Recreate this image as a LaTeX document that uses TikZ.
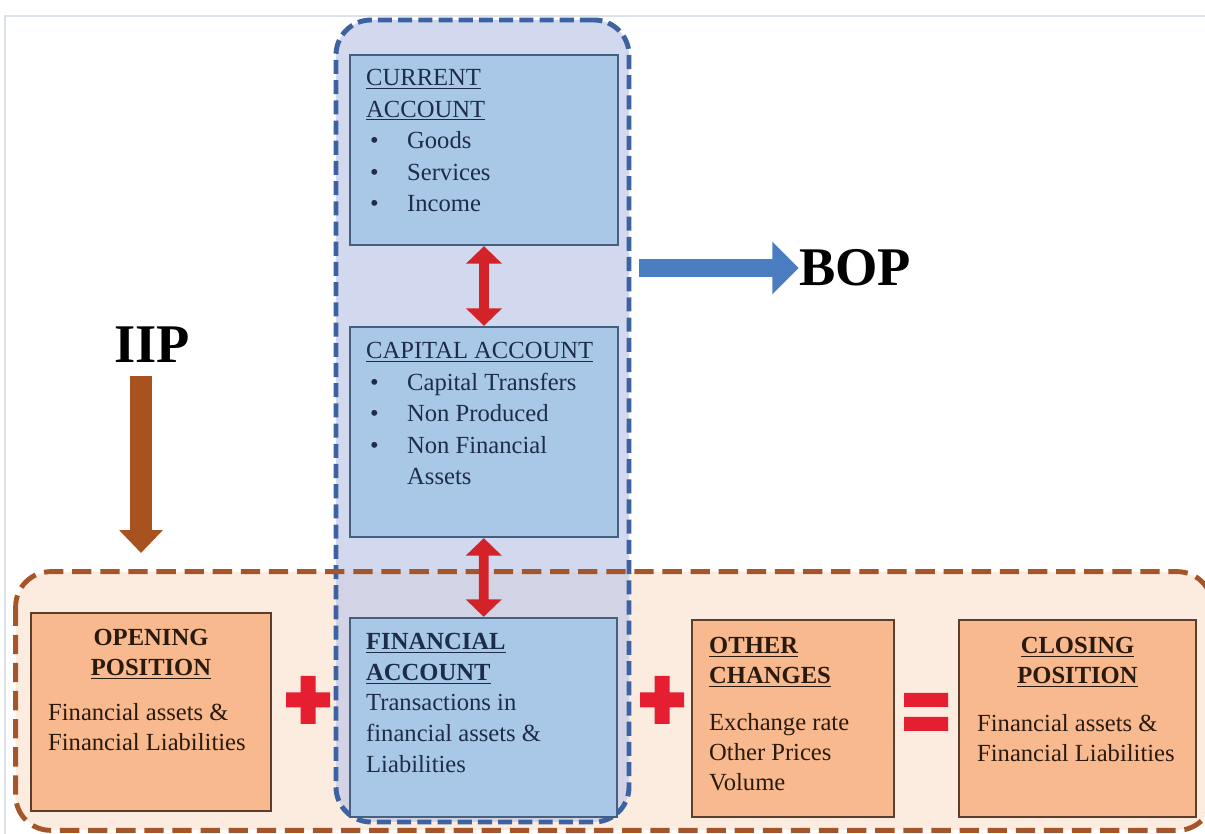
\documentclass[tikz,border=0pt]{standalone}
\usepackage{fontspec}
\setmainfont{Liberation Serif}
\usepackage{xcolor}
\usetikzlibrary{arrows.meta,fit}

\definecolor{colfill}{HTML}{C4CCE8}
\definecolor{colline}{HTML}{3D62A2}
\definecolor{bandfill}{HTML}{FCECE0}
\definecolor{bandline}{HTML}{A5552A}
\definecolor{acctfill}{HTML}{A9C8E8}
\definecolor{acctline}{HTML}{45607F}
\definecolor{acctink}{HTML}{1D2C48}
\definecolor{posfill}{HTML}{F8B98E}
\definecolor{posline}{HTML}{5B3F2C}
\definecolor{posink}{HTML}{2A1A0E}
\definecolor{linkred}{HTML}{D42229}
\definecolor{signred}{HTML}{E61E32}
\definecolor{bopblue}{HTML}{4A7EC0}
\definecolor{iipbrown}{HTML}{A8521F}
\definecolor{framegray}{HTML}{DCE2EA}

\newcommand{\itemdot}{\hspace*{0.08cm}\makebox[0.74cm][l]{\textbullet}}
\newcommand{\itemgap}{\hspace*{0.82cm}}

\begin{document}
\begin{tikzpicture}[x=0.02cm, y=-0.02cm,
    acct/.style={draw=acctline, line width=1.3pt, fill=acctfill, inner sep=0pt},
    posbox/.style={draw=posline, line width=1.3pt, fill=posfill, inner sep=0pt},
    accttxt/.style={inner sep=0pt, anchor=north west, align=left, text=acctink,
      font=\fontsize{14}{18}\selectfont},
    postxt/.style={inner sep=0pt, align=left, text=posink,
      font=\fontsize{14}{17}\selectfont},
    link/.style={linkred, line width=5.5pt,
      {Triangle[width=20pt,length=10pt]}-{Triangle[width=20pt,length=10pt]}},
    boparrow/.style={bopblue, line width=10pt, -{Triangle[width=29pt,length=15pt]}},
    iiparrow/.style={iipbrown, line width=12.5pt, -{Triangle[width=24pt,length=13pt]}},
    sign/.style={fill=signred},
    bigword/.style={inner sep=0pt, text=black, font=\fontsize{31}{31}\selectfont\bfseries}]
  \useasboundingbox (0,0) rectangle (1205,834);
  \fill[white] (0,0) rectangle (1205,834);
  \draw[framegray, line width=1.5pt] (5,16) rectangle (1240,860);
  % ============= containers: IIP band and BOP column =============
  \node[fill=bandfill, inner sep=0pt, rounded corners=0.7cm,
    fit={(16,572) (1212,830)}] (iip-band) {};
  \node[fill=colfill, fill opacity=0.75, draw=colline, line width=2.8pt,
    dash pattern=on 8pt off 3.5pt, rounded corners=0.7cm, inner sep=0pt,
    fit={(336,20) (629,822)}] (bop-col) {};
  \draw[bandline, line width=2.8pt, dash pattern=on 11pt off 5pt, rounded corners=0.7cm]
    (iip-band.north west) rectangle (iip-band.south east);
  % ============= BOP accounts =============
  \node[acct, fit={(350,55) (618,245)}] (cur) {};
  \node[acct, fit={(350,327) (618,537)}] (cap) {};
  \node[acct, fit={(350,618) (617,817)}] (fin) {};
  \node[accttxt] (cur-txt) at ([shift={(17,15)}]cur.north west)
    {\underline{CURRENT}\\\underline{ACCOUNT}\\\itemdot Goods\\\itemdot Services\\\itemdot Income};
  \node[accttxt] (cap-txt) at ([shift={(17,16)}]cap.north west)
    {\underline{CAPITAL ACCOUNT}\\\itemdot Capital Transfers\\\itemdot Non Produced\\
     \itemdot Non Financial\\\itemgap Assets};
  \node[accttxt, font=\fontsize{14}{17.5}\selectfont] (fin-txt) at ([shift={(17,16)}]fin.north west)
    {\textbf{\underline{FINANCIAL}}\\\textbf{\underline{ACCOUNT}}\\Transactions in\\
     financial assets \&\\Liabilities};
  \draw[link] (cur) -- (cap);
  \draw[link] (cap) -- (fin);
  % --- BOP label ---
  \node[bigword] (bop) at (855,268) {BOP};
  \draw[boparrow] ([xshift=0.16cm]bop-col.east |- bop.west) -- (bop.west);
  % ============= IIP positions =============
  \node[posbox, fit={(31,613) (271,811)}] (open) {};
  \node[posbox, fit={(692,620) (894,817)}] (other) {};
  \node[posbox, fit={(959,620) (1196,817)}] (close) {};
  \node[postxt, anchor=north, align=center] (open-head) at ([shift={(0,17)}]open.north)
    {\textbf{OPENING}\\\textbf{\underline{POSITION}}};
  \node[postxt, anchor=north west] (open-body) at ([shift={(18,91)}]open.north west)
    {Financial assets \&\\Financial Liabilities};
  \node[postxt, anchor=north west] (other-txt) at ([shift={(18,18)}]other.north west)
    {\textbf{\underline{OTHER}}\\\textbf{\underline{CHANGES}}\\[10pt]Exchange rate\\Other Prices\\Volume};
  \node[postxt, anchor=north, align=center] (close-head) at ([shift={(0,18)}]close.north)
    {\textbf{\underline{CLOSING}}\\\textbf{\underline{POSITION}}};
  \node[postxt, anchor=north west] (close-body) at ([shift={(19,95)}]close.north west)
    {Financial assets \&\\Financial Liabilities};
  % plus, plus, equals
  \fill[sign, shift={(308,700)}] (-22,-7.5) rectangle (22,7.5) (-7.5,-24) rectangle (7.5,24);
  \fill[sign, shift={(662,700)}] (-22,-7.5) rectangle (22,7.5) (-7.5,-24) rectangle (7.5,24);
  \fill[sign, shift={(926,712)}] (-22,-19) rectangle (22,-5) (-22,5) rectangle (22,19);
  % --- IIP label ---
  \node[bigword] (iip) at (152,345) {IIP};
  \coordinate (iip-end) at (141,553);
  \draw[iiparrow] ([yshift=-0.26cm]iip.south -| iip-end) -- (iip-end);
\end{tikzpicture}
\end{document}
